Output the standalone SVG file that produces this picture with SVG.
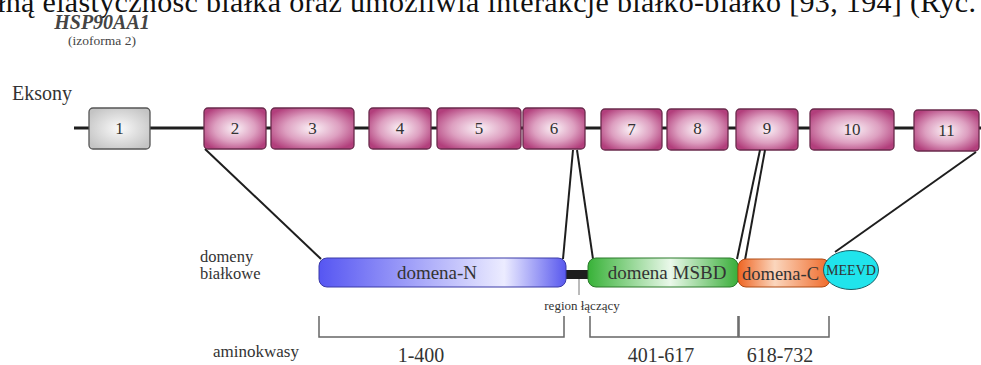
<svg xmlns="http://www.w3.org/2000/svg" width="981" height="365" viewBox="0 0 981 365">
<defs>
<radialGradient id="gMag" cx="0.5" cy="0.5" r="0.6">
<stop offset="0" stop-color="#fbf2f7"/>
<stop offset="0.55" stop-color="#dd9fc0"/>
<stop offset="1" stop-color="#b23f7c"/>
</radialGradient>
<radialGradient id="gGray" cx="0.5" cy="0.5" r="0.6">
<stop offset="0" stop-color="#fafafa"/>
<stop offset="1" stop-color="#c4c4c4"/>
</radialGradient>
<linearGradient id="gN" x1="0" y1="0" x2="1" y2="0">
<stop offset="0" stop-color="#5656f2"/>
<stop offset="0.75" stop-color="#ececff"/>
<stop offset="1" stop-color="#5858ee"/>
</linearGradient>
<linearGradient id="gM" x1="0" y1="0" x2="1" y2="0">
<stop offset="0" stop-color="#38b238"/>
<stop offset="0.55" stop-color="#eaf8ea"/>
<stop offset="1" stop-color="#3aae3a"/>
</linearGradient>
<linearGradient id="gC" x1="0" y1="0" x2="1" y2="0">
<stop offset="0" stop-color="#ee6422"/>
<stop offset="0.4" stop-color="#fbd6bd"/>
<stop offset="1" stop-color="#ef6a2a"/>
</linearGradient>
<style>
.ser{font-family:"Liberation Serif","Times New Roman",serif;}
.ex{fill:url(#gMag);stroke:#6a2b4c;stroke-width:1.3;}
.num{font-family:"Liberation Serif",serif;font-size:17px;fill:#333;text-anchor:middle;}
.lbl{font-family:"Liberation Serif",serif;fill:#333;}
.con{stroke:#1e1e1e;stroke-width:2;fill:none;}
.br{stroke:#666;stroke-width:1.5;fill:none;}
</style>
</defs>
<rect width="981" height="365" fill="#fff"/>

<text class="ser" x="-3" y="12" font-size="30" fill="#111" textLength="979" lengthAdjust="spacing">łną elastyczność białka oraz umożliwia interakcje białko-białko [93, 194] (Ryc.</text>

<g id="title">
<text class="ser" x="102" y="29" font-size="20" font-weight="bold" font-style="italic" fill="#444" text-anchor="middle">HSP90AA1</text>
<text class="ser" x="102" y="45" font-size="13.5" fill="#444" text-anchor="middle">(izoforma 2)</text>
</g>

<g id="label-eksony"><text class="lbl" x="12" y="100" font-size="20">Eksony</text></g>

<g id="backbone"><line x1="74" y1="128" x2="981" y2="128" stroke="#1e1e1e" stroke-width="3"/></g>

<g id="exon1"><rect x="89" y="108" width="61" height="41" rx="4" fill="url(#gGray)" stroke="#555" stroke-width="1.3"/><text class="num" x="119.5" y="134">1</text></g>
<g id="exon2"><rect class="ex" x="204" y="108" width="62" height="41" rx="4"/><text class="num" x="235" y="134">2</text></g>
<g id="exon3"><rect class="ex" x="271" y="108" width="83" height="41" rx="4"/><text class="num" x="312.5" y="134">3</text></g>
<g id="exon4"><rect class="ex" x="369" y="108" width="62" height="41" rx="4"/><text class="num" x="400" y="134">4</text></g>
<g id="exon5"><rect class="ex" x="437" y="108" width="84" height="41" rx="4"/><text class="num" x="479" y="134">5</text></g>
<g id="exon6"><rect class="ex" x="523" y="108" width="62" height="41" rx="4"/><text class="num" x="554" y="134">6</text></g>
<g id="exon7"><rect class="ex" x="601" y="109" width="61" height="41" rx="4"/><text class="num" x="631.5" y="135">7</text></g>
<g id="exon8"><rect class="ex" x="667" y="109" width="61" height="41" rx="4"/><text class="num" x="697.5" y="134">8</text></g>
<g id="exon9"><rect class="ex" x="736" y="109" width="62" height="41" rx="4"/><text class="num" x="767" y="134">9</text></g>
<g id="exon10"><rect class="ex" x="810" y="109" width="84" height="41" rx="4"/><text class="num" x="852" y="135">10</text></g>
<g id="exon11"><rect class="ex" x="914" y="110" width="65" height="41" rx="4"/><text class="num" x="946.5" y="136">11</text></g>

<g id="connectors">
<line class="con" x1="205" y1="149" x2="321" y2="259"/>
<line class="con" x1="573" y1="150" x2="563" y2="259"/>
<line class="con" x1="577" y1="150" x2="593" y2="259"/>
<line class="con" x1="760" y1="150" x2="737" y2="259"/>
<line class="con" x1="765" y1="150" x2="745" y2="260"/>
<line class="con" x1="976" y1="152" x2="835" y2="252"/>
</g>

<g id="label-domeny">
<text class="lbl" x="200" y="262" font-size="16.5">domeny</text>
<text class="lbl" x="200" y="279" font-size="16.5">białkowe</text>
</g>

<g id="linker">
<rect x="564" y="270" width="26" height="9" fill="#1e1e1e"/>
<line x1="579" y1="279" x2="579" y2="295" stroke="#777" stroke-width="1"/>
<text class="lbl" x="582" y="310" font-size="13" text-anchor="middle">region łączący</text>
</g>

<g id="domain-N">
<rect x="319" y="258" width="247" height="29" rx="8" fill="url(#gN)" stroke="#3a3aa8" stroke-width="1"/>
<text class="lbl" x="437" y="279" font-size="19" text-anchor="middle">domena-N</text>
</g>

<g id="domain-MSBD">
<rect x="588" y="258" width="150" height="29" rx="8" fill="url(#gM)" stroke="#2a7a2a" stroke-width="1"/>
<text class="lbl" x="667" y="279" font-size="19" text-anchor="middle" fill="#1e3a1e">domena MSBD</text>
</g>

<g id="domain-C">
<rect x="738" y="259" width="92" height="28" rx="8" fill="url(#gC)" stroke="#b04a12" stroke-width="1"/>
<text class="lbl" x="742" y="280" font-size="18.5" fill="#3a2010">domena-C</text>
</g>

<g id="MEEVD">
<ellipse cx="851" cy="270" rx="27.5" ry="19.5" fill="#20e4ec" stroke="#1a5f66" stroke-width="1"/>
<text class="lbl" x="851" y="275" font-size="14" text-anchor="middle" fill="#106070" textLength="50" lengthAdjust="spacingAndGlyphs">MEEVD</text>
</g>

<g id="brackets">
<path class="br" d="M319 316 V337 H564 V316"/>
<path class="br" d="M590 316 V337 H738 V316"/>
<path class="br" d="M739 316 V337 H829 V316"/>
</g>

<g id="aminokwasy">
<text class="lbl" x="213" y="357" font-size="17">aminokwasy</text>
<text class="lbl" x="421" y="362" font-size="20" text-anchor="middle">1-400</text>
<text class="lbl" x="661" y="362" font-size="20" text-anchor="middle">401-617</text>
<text class="lbl" x="780" y="362" font-size="20" text-anchor="middle">618-732</text>
</g>
</svg>
